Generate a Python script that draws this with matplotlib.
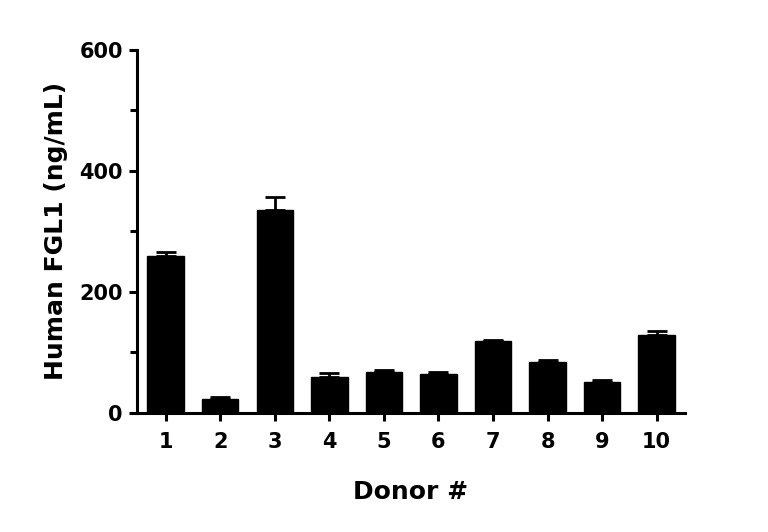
import numpy as np
import matplotlib
matplotlib.use("Agg")
from matplotlib import pyplot as plt
from matplotlib.ticker import MultipleLocator

# values (ng/mL), mean and upper error
donors = ["1", "2", "3", "4", "5", "6", "7", "8", "9", "10"]
means = [260, 23, 336, 60, 67, 65, 118, 84, 51, 129]
errors = [6, 4, 21, 6, 4, 3, 3, 3, 3, 7]

plt.rcParams['font.family'] = ['DejaVu Sans']
plt.rcParams['font.weight'] = 'bold'

fig = plt.figure(figsize=(7.68, 5.32), dpi=100)
ax = fig.add_axes([0.178, 0.224, 0.714, 0.682])

x = np.arange(1, len(donors) + 1)
ax.bar(x, means, width=0.667, color='black', edgecolor='black')
ax.errorbar(x, means, yerr=[np.zeros(len(errors)), errors], fmt='none',
            ecolor='black', elinewidth=2, capsize=7, capthick=2)

ax.set_xlim(0.47, 10.52)
ax.set_ylim(0, 600)
ax.set_xticks(x)
ax.set_xticklabels(donors)
ax.yaxis.set_major_locator(MultipleLocator(200))
ax.yaxis.set_minor_locator(MultipleLocator(100))

# some plot beautification
for side in ['top', 'right']:
    ax.spines[side].set_visible(False)
for side in ['left', 'bottom']:
    ax.spines[side].set_linewidth(2.2)
ax.tick_params(which='major', length=6, width=2.2, labelsize=15, pad=4)
ax.tick_params(axis='x', which='major', pad=8)
ax.tick_params(which='minor', length=5, width=2.2)
ax.tick_params(axis='x', which='minor', length=0)

ax.set_xlabel('Donor #', fontsize=18, fontweight='bold', labelpad=20)
ax.set_ylabel('Human FGL1 (ng/mL)', fontsize=18, fontweight='bold', labelpad=8)

fig.savefig("out.png", dpi=100)
